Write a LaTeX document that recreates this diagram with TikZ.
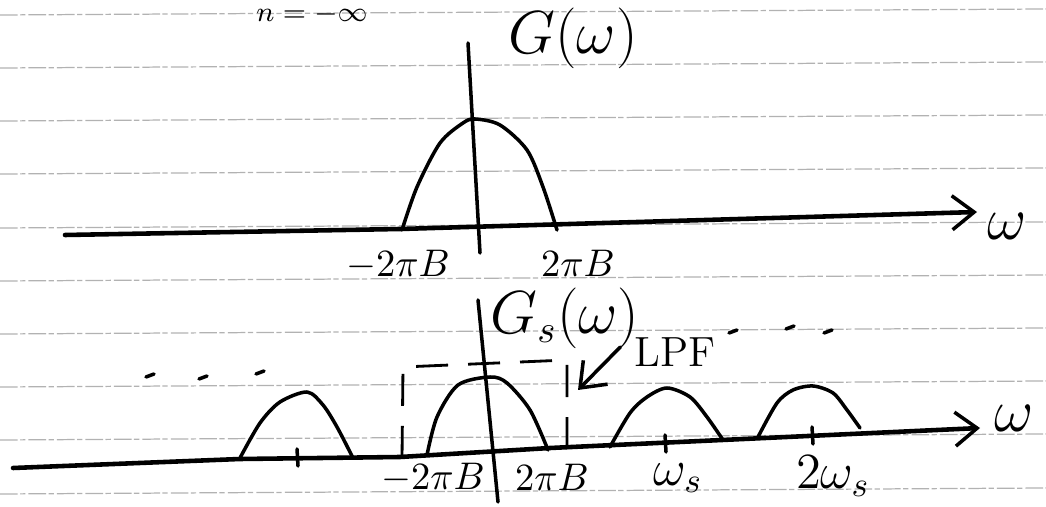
\documentclass[tikz,border=0pt]{standalone}
\usepackage{amsmath,amssymb}
\usepackage{tikz}
\usetikzlibrary{arrows.meta, positioning}

\begin{document}
\begin{tikzpicture}[x=0.01cm, y=-0.01cm,
    ink/.style={line width=1pt, line cap=round, line join=round},
    axis/.style={ink, line width=1.3pt},
    rule/.style={gray!60, line width=0.35pt, dash pattern=on 5pt off 0.7pt on 1.5pt off 0.9pt},
    lpfbox/.style={line width=0.8pt, dash pattern=on 3.2mm off 2mm},
    barb/.style={-{Straight Barb[length=2.2mm,width=3.4mm,line width=1pt]}},
    lbl/.style={inner sep=1pt, font=\fontsize{11}{13}\selectfont}]
  \useasboundingbox (0,0) rectangle (1046,507);
  % ruled paper
  \foreach \y in {15,68,121,174,228,281,334,387,440,494}
    \draw[rule] (0,\y) -- (1046,{\y-6});
  \node[inner sep=0pt, anchor=north, font=\fontsize{8}{9}\selectfont] (nlim) at (312,4) {$n=-\infty$};

  % upper spectrum G(w)
  \draw[axis, barb] (65,235) -- (400,229) -- (977,212) coordinate (wend1);
  \draw[ink] (468,43) -- (480,253);
  \draw[ink] plot[smooth] coordinates {(402,230) (417,187) (440,143) (463,123) (475,119)
    (500,125) (527,150) (543,187) (557,230)};
  \node[lbl, font=\fontsize{16}{18}\selectfont] (gw) at (573,38) {$G(\omega)$};
  \node[lbl, font=\fontsize{16}{18}\selectfont] (w1) at (1007,226) {$\omega$};
  \node[lbl] (mb1) at (398,265) {$-2\pi B$};
  \node[lbl] (pb1) at (578,263) {$2\pi B$};

  % lower spectrum G_s(w), shifted copies
  \draw[axis, barb] (13,468) -- (240,459) -- (400,457) -- (550,448) -- (980,428) coordinate (wend2);
  \draw[ink] (478,300) -- (498,502);
  \draw[ink] plot[smooth] coordinates {(240,458) (260,423) (280,402) (307,392) (323,405)
    (337,427) (353,458)};
  \draw[ink] plot[smooth] coordinates {(427,455) (437,417) (458,385) (490,377) (507,383)
    (530,410) (548,450)};
  \draw[ink] plot[smooth] coordinates {(610,447) (630,413) (647,397) (667,388) (690,397)
    (707,417) (723,440)};
  \draw[ink] plot[smooth] coordinates {(758,437) (777,403) (793,390) (813,386) (833,393)
    (847,410) (860,428)};
  \foreach \x/\y in {297/458, 665/444, 812/436}
    \draw[ink] (\x,{\y-9}) -- ({\x+1},{\y+8});
  % dots for the repeating copies
  \foreach \x/\y in {150/376, 203/378, 260/373, 733/332, 790/328, 828/332}
    \draw[ink] ({\x-4},{\y+1}) -- ({\x+4},{\y-2});
  % ideal low pass filter
  \draw[lpfbox] (402,458) -- (403,367) -- (567,360) -- (567,462);
  \node[lbl, font=\fontsize{12}{14}\selectfont] (lpf) at (675,352) {LPF};
  \coordinate (lpftip) at (578,390);
  \draw[ink, barb] ([xshift=-1mm,yshift=0.5mm]lpf.west) -- (lpftip);
  \node[lbl, font=\fontsize{16}{18}\selectfont] (gsw) at (565,318) {$G_s(\omega)$};
  \node[lbl, font=\fontsize{16}{18}\selectfont] (w2) at (1014,418) {$\omega$};
  \node[lbl] (mb2) at (433,478) {$-2\pi B$};
  \node[lbl] (pb2) at (552,477) {$2\pi B$};
  \node[lbl, font=\fontsize{14}{16}\selectfont] (ws) at (678,478) {$\omega_s$};
  \node[lbl, font=\fontsize{14}{16}\selectfont] (tws) at (833,476) {$2\omega_s$};
\end{tikzpicture}
\end{document}
